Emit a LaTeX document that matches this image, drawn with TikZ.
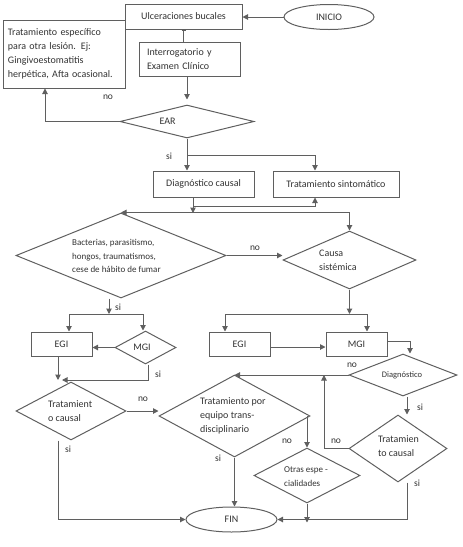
\documentclass[tikz,border=0pt]{standalone}
\usepackage{fontspec}
\setmainfont{Carlito}
\usepackage{tikz}
\usetikzlibrary{arrows.meta,positioning,shapes.geometric}
\definecolor{lnc}{RGB}{95,95,95}
\definecolor{txc}{RGB}{50,50,50}
\tikzset{
  proc/.style={rectangle,draw=lnc,line width=1pt,inner sep=0pt,text=txc,font=\fontsize{10}{14}\selectfont},
  dec/.style={diamond,draw=lnc,line width=1pt,inner sep=0pt},
  term/.style={ellipse,draw=lnc,line width=1pt,inner sep=0pt,text=txc,font=\fontsize{10}{14}\selectfont},
  arr/.style={draw=lnc,line width=1pt,-{Triangle[length=5.5pt,width=5.5pt]}},
  ln/.style={draw=lnc,line width=1pt},
  txt/.style={text=txc,font=\fontsize{10}{14}\selectfont,align=left,inner sep=0pt},
  dtxt/.style={text=txc,font=\fontsize{9}{13.5}\selectfont,align=left,inner sep=0pt},
  lab/.style={text=txc,font=\fontsize{9.5}{10}\selectfont,inner sep=0pt},
}

\begin{document}
\begin{tikzpicture}[x=1pt,y=-1pt]
    \useasboundingbox (0,0) rectangle (463,547);
    % Start
    \node[term,minimum width=90pt,minimum height=25pt] (inicio) at (329,17) {INICIO};
    \node[proc,minimum width=117pt,minimum height=25pt] (ulc) at (183.5,16.5) {Ulceraciones bucales};
    \node[proc,minimum width=122pt,minimum height=68pt,text width=112pt,align=left] (tesp) at (64,54) {Tratamiento específico\\para otra lesión. Ej:\\Gingivoestomatitis\\herpética, Afta ocasional.};
    \node[proc,minimum width=101pt,minimum height=34pt,text width=85pt,align=left] (inter) at (189.5,59) {Interrogatorio y\\Examen Clínico};
    
    \draw[arr] (inicio.west) -- (inicio.west -| ulc.east);
    \draw[ln,{Bar[width=4pt]}-] (ulc.south) -- (ulc.south |- inter.north);
    
    % EAR
    \node[dec,minimum width=134pt,minimum height=33pt] (ear) at (187,121.5) {};
    \node[txt] (ear-t) at (167.5,121) {EAR};
    \draw[arr,shorten >=5pt] (ear.north |- inter.south) -- (ear.north);
    \coordinate (nw) at (45,0);
    \draw[arr] (ear.west) -| (nw |- tesp.south);
    \node[lab] (no1) at (108,97) {no};
    
    \node[proc,minimum width=101pt,minimum height=26pt] (dcaus) at (203.5,184) {Diagnóstico causal};
    \node[proc,minimum width=126pt,minimum height=26pt] (tsint) at (336,184) {Tratamiento sintomático};
    \coordinate (br1) at (187,155);
    \draw[arr] (ear.south) -- (ear.south |- dcaus.north);
    \draw[arr] (br1) -| ([xshift=-21pt]tsint.north);
    \node[lab] (si1) at (169,156) {si};
    
    % Causes
    \node[dec,minimum width=210pt,minimum height=85pt] (bact) at (121,255.5) {};
    \node[dtxt,anchor=west] (bact-t) at (72,256) {Bacterias, parasitismo,\\hongos, traumatismos,\\cese de hábito de fumar};
    \node[dec,minimum width=133pt,minimum height=58pt] (causa) at (349.5,260) {};
    \node[txt,anchor=west] (causa-t) at (319,260) {Causa\\sistémica};
    
    \coordinate (br2) at (193,206);
    \coordinate (h1) at (193,213);
    \draw[arr] (dcaus.south -| br2) -- (h1);
    \draw[arr] (br2) -| ([xshift=-21pt]tsint.south);
    \draw[arr] (causa.north |- bact.north) -- (bact.north);
    \draw[arr] (causa.north |- bact.north) -- (causa.north);
    \draw[arr] (bact.east) -- (bact.east -| causa.west);
    \node[lab] (no2) at (255,248) {no};
    
    % Left branch
    \node[proc,minimum width=61pt,minimum height=24pt] (egia) at (61.5,344) {EGI};
    \node[dec,minimum width=61pt,minimum height=33pt] (mgia) at (145.5,347.5) {};
    \node[txt] (mgia-t) at (142,347) {MGI};
    \coordinate (sj) at (109,314);
    \draw[arr] (sj |- bact.south) -- (sj);
    \node[lab] (si2) at (118,307) {si};
    \draw[arr] (sj) -| ([xshift=7.5pt]egia.north);
    \draw[arr] (sj) -| ([xshift=-2.5pt]mgia.north);
    \draw[arr,{Triangle[length=5.5pt,width=5.5pt]}-] (mgia.west -| egia.east) -- (mgia.west);
    
    % Right branch
    \node[proc,minimum width=61pt,minimum height=24pt] (egib) at (239.5,344) {EGI};
    \node[proc,minimum width=61pt,minimum height=24pt] (mgib) at (356.5,344) {MGI};
    \coordinate (sk) at (349.5,314);
    \draw[arr] (causa.south) -- (sk);
    \draw[arr] (sk) -| ([xshift=-14.5pt]egib.north);
    \draw[arr] (sk) -| ([xshift=10.5pt]mgib.north);
    \draw[arr] ([yshift=-3pt]egib.east) -- ([yshift=-3pt]mgib.west);
    
    % Treatments
    \node[dec,minimum width=110pt,minimum height=58pt] (tcausa) at (71,411) {};
    \node[txt,anchor=west] (tcausa-t) at (48,411) {Tratamient\\o causal};
    \node[dec,minimum width=151pt,minimum height=82pt] (tequip) at (234.5,416) {};
    \node[txt,anchor=west] (tequip-t) at (200,416) {Tratamiento por\\equipo trans-\\disciplinario};
    \node[dec,minimum width=108pt,minimum height=42pt] (diag) at (403,375) {};
    \node[dtxt,font=\fontsize{8.5}{9}\selectfont] (diag-t) at (402,375) {Diagnóstico};
    \node[dec,minimum width=98pt,minimum height=67pt] (tcausb) at (398,448.5) {};
    \node[txt,anchor=west] (tcausb-t) at (378,446.5) {Tratamien\\to causal};
    \node[dec,minimum width=106pt,minimum height=55pt] (otras) at (307,475.5) {};
    \node[dtxt,anchor=west] (otras-t) at (284,476.5) {Otras espe -\\cialidades};
    \node[term,minimum width=91pt,minimum height=25pt] (fin) at (231.5,519.5) {FIN};
    
    \coordinate (cl) at (58,380);
    \draw[arr] (egia.south -| cl) -- (cl);
    \draw[arr] ([xshift=2.5pt]mgia.south) |- ([xshift=4pt]cl);
    \node[lab] (si3) at (158,374) {si};
    \draw[arr] (tcausa.east) -- (tcausa.east -| tequip.west);
    \node[lab] (no3) at (143,399) {no};
    \draw[arr] ([yshift=3pt]mgib.east) -| ([xshift=7pt]diag.north);
    \draw[arr] (diag.west) -- (diag.west -| tequip.north);
    \node[lab] (no4) at (352,365) {no};
    \coordinate (cr) at (324,375);
    \draw[arr] (tcausb.west) -| (cr);
    \node[lab] (no5) at (336,441) {no};
    \draw[arr] ([xshift=4pt]diag.south) -- ([xshift=4pt]diag.south |- tcausb.north);
    \node[lab] (si4) at (420,407) {si};
    \draw[arr] ([xshift=9pt]tcausb.south) |- (fin.east);
    \node[lab] (si5) at (417,483) {si};
    \draw[arr] (tequip.south) -- (tequip.south |- fin.north);
    \node[lab] (si6) at (218,458) {si};
    \draw[arr] (otras.north |- tequip.east) -- (otras.north);
    \node[lab] (no6) at (287,441) {no};
    \draw[arr] (otras.south) -- ++(0,19);
    \draw[arr] (tcausa.south -| cl) |- (fin.west);
    \node[lab] (si7) at (68,449) {si};
\end{tikzpicture}
\end{document}
